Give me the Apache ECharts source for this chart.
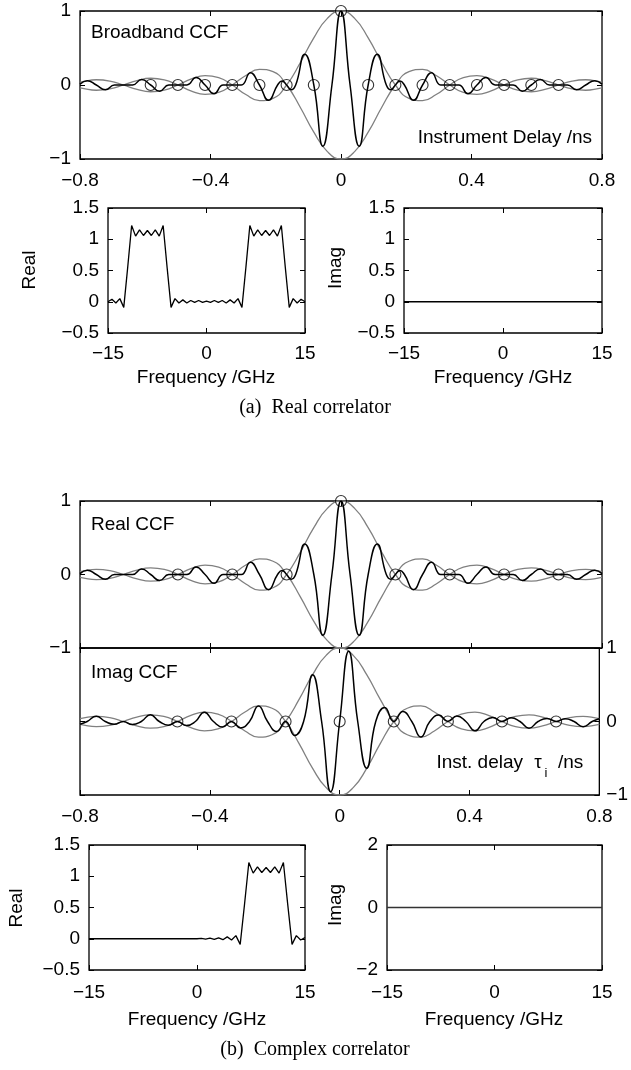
<!DOCTYPE html>
<html>
<head>
<meta charset="utf-8">
<script src="https://cdn.jsdelivr.net/npm/echarts@6/dist/echarts.min.js"></script>
<style>
html,body{margin:0;padding:0;background:#fff;}
#chart{width:631px;height:1070px;}
</style>
</head>
<body>
<div id="chart"></div>
<script>
// ---------------- data ----------------
// delay axis samples for the real CCF (ns)
const tauRe = [-0.8, -0.7778, -0.75, -0.7222, -0.6944, -0.6667, -0.6389, -0.6111, -0.5833, -0.5556, -0.5278, -0.5, -0.4722, -0.4444, -0.4167, -0.3889, -0.3611, -0.3333, -0.3056, -0.2778, -0.25, -0.2222, -0.1944, -0.1806, -0.1667, -0.1528, -0.1389, -0.1111, -0.0833, -0.0556, -0.0278, 0, 0.0278, 0.0556, 0.0833, 0.1111, 0.1389, 0.1528, 0.1667, 0.1806, 0.1944, 0.2222, 0.25, 0.2778, 0.3056, 0.3333, 0.3611, 0.3889, 0.4167, 0.4444, 0.4722, 0.5, 0.5278, 0.5556, 0.5833, 0.6111, 0.6389, 0.6667, 0.6944, 0.7222, 0.75, 0.7778, 0.8];
const ccfRe = [0.012, 0.059, 0, -0.064, 0, 0, 0, 0.075, 0, -0.083, 0, 0, 0, 0.103, 0, -0.118, 0, 0, 0, 0.165, 0, -0.207, 0, 0.054, 0, -0.064, 0, 0.414, 0, -0.827, 0, 1, 0, -0.827, 0, 0.414, 0, -0.064, 0, 0.054, 0, -0.207, 0, 0.165, 0, 0, 0, -0.118, 0, 0.103, 0, 0, 0, -0.083, 0, 0.075, 0, 0, 0, -0.064, 0, 0.059, 0.012];

// delay axis samples for the imaginary CCF (ns)
const tauIm = [-0.8, -0.7778, -0.75, -0.7222, -0.6944, -0.6667, -0.6389, -0.6111, -0.5833, -0.5556, -0.5278, -0.5, -0.4722, -0.4444, -0.4167, -0.3889, -0.3611, -0.3333, -0.3056, -0.2778, -0.25, -0.2222, -0.1944, -0.1667, -0.1389, -0.1111, -0.0833, -0.0556, -0.0278, 0, 0.0278, 0.0556, 0.0833, 0.1111, 0.1389, 0.1667, 0.1944, 0.2222, 0.25, 0.2778, 0.3056, 0.3333, 0.3611, 0.3889, 0.4167, 0.4444, 0.4722, 0.5, 0.5278, 0.5556, 0.5833, 0.6111, 0.6389, 0.6667, 0.6944, 0.7222, 0.75, 0.7778, 0.8];
const ccfIm = [-0.037, 0, 0.071, 0, -0.038, 0, -0.042, 0, 0.091, 0, -0.050, 0, -0.056, 0, 0.127, 0, -0.074, 0, -0.087, 0, 0.212, 0, -0.136, 0, -0.191, 0, 0.637, 0, -0.955, 0, 0.955, 0, -0.637, 0, 0.191, 0, 0.136, 0, -0.212, 0, 0.087, 0, 0.074, 0, -0.127, 0, 0.056, 0, 0.050, 0, -0.091, 0, 0.042, 0, 0.038, 0, -0.071, 0, 0.037];

// envelope (grey curves)
const tauEnv = [-0.8, -0.7917, -0.75, -0.7083, -0.6667, -0.625, -0.5833, -0.5417, -0.5, -0.4583, -0.4167, -0.375, -0.3333, -0.2917, -0.25, -0.2083, -0.1667, -0.125, -0.0833, -0.0417, 0, 0.0417, 0.0833, 0.125, 0.1667, 0.2083, 0.25, 0.2917, 0.3333, 0.375, 0.4167, 0.4583, 0.5, 0.5417, 0.5833, 0.625, 0.6667, 0.7083, 0.75, 0.7917, 0.8];
const envUp = [0.039, 0.047, 0.071, 0.053, 0, -0.060, -0.091, -0.069, 0, 0.082, 0.127, 0.100, 0, -0.129, -0.212, -0.180, 0, 0.300, 0.637, 0.900, 1, 0.900, 0.637, 0.300, 0, -0.180, -0.212, -0.129, 0, 0.100, 0.127, 0.082, 0, -0.069, -0.091, -0.060, 0, 0.053, 0.071, 0.047, 0.039];
const envLo = [-0.039, -0.047, -0.071, -0.053, 0, 0.060, 0.091, 0.069, 0, -0.082, -0.127, -0.100, 0, 0.129, 0.212, 0.180, 0, -0.300, -0.637, -0.900, -1, -0.900, -0.637, -0.300, 0, 0.180, 0.212, 0.129, 0, -0.100, -0.127, -0.082, 0, 0.069, 0.091, 0.060, 0, -0.053, -0.071, -0.047, -0.039];

// sample markers (circles)
const circTauA = [-0.5833, -0.5, -0.4167, -0.3333, -0.25, -0.1667, -0.0833, 0, 0.0833, 0.1667, 0.25, 0.3333, 0.4167, 0.5, 0.5833, 0.6667];
const circValA = [0, 0, 0, 0, 0, 0, 0, 1, 0, 0, 0, 0, 0, 0, 0, 0];
const circTauB = [-0.5, -0.3333, -0.1667, 0, 0.1667, 0.3333, 0.5, 0.6667];
const circReB = [0, 0, 0, 1, 0, 0, 0, 0];
const circImB = [0, 0, 0, 0, 0, 0, 0, 0];

// spectra (GHz)
const freq = [-15, -14.4, -13.8, -13.2, -12.6, -12, -11.4, -10.8, -10.2, -9.6, -9, -8.4, -7.8, -7.2, -6.6, -6, -5.4, -4.8, -4.2, -3.6, -3, -2.4, -1.8, -1.2, -0.6, 0, 0.6, 1.2, 1.8, 2.4, 3, 3.6, 4.2, 4.8, 5.4, 6, 6.6, 7.2, 7.8, 8.4, 9, 9.6, 10.2, 10.8, 11.4, 12, 12.6, 13.2, 13.8, 14.4, 15];
const specReA = [0, 0.04, -0.02, 0.05, -0.09, 0.55, 1.22, 1.05, 1.15, 1.06, 1.14, 1.06, 1.15, 1.05, 1.22, 0.55, -0.09, 0.05, -0.02, 0.03, -0.02, 0.02, -0.01, 0.02, -0.01, 0.01, -0.01, 0.02, -0.01, 0.02, -0.02, 0.03, -0.02, 0.05, -0.09, 0.55, 1.22, 1.05, 1.15, 1.06, 1.14, 1.06, 1.15, 1.05, 1.22, 0.55, -0.09, 0.05, -0.02, 0.04, 0];
const specReB = [0, 0, 0, 0, 0, 0, 0, 0, 0, 0, 0, 0, 0, 0, 0, 0, 0, 0, 0, 0, 0, 0, 0, 0, 0, 0, 0.005, -0.005, 0.01, -0.01, 0.015, -0.015, 0.03, -0.02, 0.05, -0.09, 0.55, 1.22, 1.05, 1.15, 1.06, 1.14, 1.06, 1.15, 1.05, 1.22, 0.55, -0.09, 0.05, -0.02, 0.02, 0];
const freqEnds = [-15, 15];
const specImA = [0, 0];
const specImB = [0, 0];

// axis ranges [min, max, interval]
const tauAxis = [-0.8, 0.8, 0.4];
const ccfAxis = [-1, 1, 1];
const freqAxis = [-15, 15, 15];
const specAxis = [-0.5, 1.5, 0.5];
const imagSpecAxisB = [-2, 2, 2];
</script>
<script>
const SANS = '"Liberation Sans", Arial, Helvetica, sans-serif';
const SERIF = '"Liberation Serif", "Times New Roman", serif';
const FS = 19;
function fmt(v){ const r = Math.round(v*1e6)/1e6; return r < 0 ? '\u2212' + String(-r) : String(r); }

const grids = [
  {left:80,  top:11,  width:522, height:148}, // 0 (a) broadband CCF
  {left:108, top:208, width:197, height:125}, // 1 (a) real spectrum
  {left:404, top:208, width:198, height:125}, // 2 (a) imag spectrum
  {left:80,  top:501, width:522, height:147}, // 3 (b) real CCF
  {left:80,  top:648, width:522, height:147}, // 4 (b) imag CCF
  {left:89,  top:845, width:216, height:125}, // 5 (b) real spectrum
  {left:387, top:845, width:215, height:125}  // 6 (b) imag spectrum
].map(g => Object.assign({show:true, borderColor:'#000', borderWidth:1.3, backgroundColor:'rgba(0,0,0,0)', containLabel:false}, g));

function axis(gi, range, position, showLabel, margin){
  return {
    type:'value', gridIndex:gi, position, min:range[0], max:range[1], interval:range[2],
    axisLine:{show:false, onZero:false}, splitLine:{show:false},
    axisTick:{show:true, inside:true, length:5, lineStyle:{color:'#000', width:1}},
    axisLabel:{show:showLabel, margin, formatter:fmt, showMinLabel:true, showMaxLabel:true,
      color:'#000', fontSize:FS, fontFamily:SANS}
  };
}
const xAxes = [], yAxes = [];
function frame(gi, xr, yr, xLab, yLabSide, xMargin, yMargin){
  xAxes.push(axis(gi, xr, 'bottom', xLab, xMargin));
  xAxes.push(axis(gi, xr, 'top', false, 8));
  yAxes.push(axis(gi, yr, 'left', yLabSide === 'left', yMargin));
  yAxes.push(axis(gi, yr, 'right', yLabSide === 'right', yMargin));
}
frame(0, tauAxis, ccfAxis, true, 'left', 12, 9);
frame(1, freqAxis, specAxis, true, 'left', 11, 9);
frame(2, freqAxis, specAxis, true, 'left', 11, 9);
frame(3, tauAxis, ccfAxis, false, 'left', 12, 9);
frame(4, tauAxis, ccfAxis, true, 'right', 12, 7);
frame(5, freqAxis, specAxis, true, 'left', 13, 9);
frame(6, freqAxis, imagSpecAxisB, true, 'left', 13, 9);

function pairs(xs, ys){ return xs.map((x,i) => [x, ys[i]]); }
function line(gi, xs, ys, color, width, smooth){
  return {type:'line', xAxisIndex:2*gi, yAxisIndex:2*gi, data:pairs(xs, ys), symbol:'none', showSymbol:false,
    smooth:smooth, lineStyle:{color, width}, silent:true, animation:false};
}
function circles(gi, xs, ys){
  return {type:'scatter', xAxisIndex:2*gi, yAxisIndex:2*gi, data:pairs(xs, ys), symbol:'circle', symbolSize:11,
    itemStyle:{color:'rgba(0,0,0,0)', borderColor:'#000', borderWidth:1.1}, silent:true, clip:false, z:5};
}
const GREY = '#808080';
const series = [
  line(0, tauEnv, envUp, GREY, 1.3, 0.5),
  line(0, tauEnv, envLo, GREY, 1.3, 0.5),
  line(0, tauRe, ccfRe, '#000', 1.5, 0.5),
  circles(0, circTauA, circValA),
  line(1, freq, specReA, '#000', 1.3, false),
  line(2, freqEnds, specImA, '#000', 1.3, false),
  line(3, tauEnv, envUp, GREY, 1.3, 0.5),
  line(3, tauEnv, envLo, GREY, 1.3, 0.5),
  line(3, tauRe, ccfRe, '#000', 1.5, 0.5),
  circles(3, circTauB, circReB),
  line(4, tauEnv, envUp, GREY, 1.3, 0.5),
  line(4, tauEnv, envLo, GREY, 1.3, 0.5),
  line(4, tauIm, ccfIm, '#000', 1.5, 0.5),
  circles(4, circTauB, circImB),
  line(5, freq, specReB, '#000', 1.3, false),
  line(6, freqEnds, specImB, '#333', 1.4, false)
];

function txt(x, y, text, align, opt){
  opt = opt || {};
  const font = opt.font || (FS + 'px ' + SANS);
  return {type:'text', x, y, rotation: opt.rotation || 0, silent:true, z:10,
    style:{text, fill:'#000', font, align, textAlign:align, verticalAlign:'middle', textVerticalAlign:'middle'}};
}
const graphic = [
  txt(91, 33, 'Broadband CCF', 'left'),
  txt(592, 138, 'Instrument Delay /ns', 'right'),
  txt(30, 270, 'Real', 'center', {rotation:Math.PI/2}),
  txt(336, 268, 'Imag', 'center', {rotation:Math.PI/2}),
  txt(206, 378, 'Frequency /GHz', 'center'),
  txt(503, 378, 'Frequency /GHz', 'center'),
  txt(315, 408, '(a)  Real correlator', 'center', {font:'20px ' + SERIF}),
  txt(91, 525, 'Real CCF', 'left'),
  txt(91, 673, 'Imag CCF', 'left'),
  txt(523, 763, 'Inst. delay', 'right'),
  txt(538, 763, '\u03C4', 'center'),
  txt(546, 773, 'i', 'center', {font:'13px ' + SANS}),
  txt(558, 763, '/ns', 'left'),
  txt(17, 908, 'Real', 'center', {rotation:Math.PI/2}),
  txt(336, 905, 'Imag', 'center', {rotation:Math.PI/2}),
  txt(197, 1020, 'Frequency /GHz', 'center'),
  txt(494, 1020, 'Frequency /GHz', 'center'),
  txt(315, 1050, '(b)  Complex correlator', 'center', {font:'20px ' + SERIF})
];

const chart = echarts.init(document.getElementById('chart'), null, {renderer:'canvas'});
chart.setOption({
  animation:false,
  backgroundColor:'#fff',
  grid:grids,
  xAxis:xAxes,
  yAxis:yAxes,
  series,
  graphic
});
</script>
</body>
</html>
